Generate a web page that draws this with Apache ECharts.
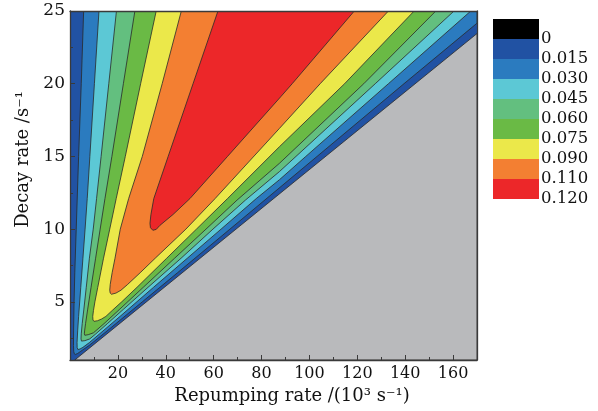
<!DOCTYPE html>
<html><head><meta charset="utf-8">
<script src="https://cdn.jsdelivr.net/npm/echarts@6/dist/echarts.min.js"></script>
<style>html,body{margin:0;padding:0;background:#fff}#c{width:598px;height:411px}</style>
</head><body><div id="c"></div>
<script>
// ---- data ----
const yMajorTicks = [5, 10, 15, 20, 25];
const yMinorTicks = [2.5, 7.5, 12.5, 17.5, 22.5];
const levelLabels = ['0', '0.015', '0.030', '0.045', '0.060', '0.075', '0.090', '0.110', '0.120'];
const bandColors = ['#000000', '#2152a3', '#2b7bbf', '#5cc8d5', '#63bf7f', '#6aba45', '#ebe84a', '#f37f32', '#ec2729'];
const grayColor = '#b9babc';

// region below the zero contour (no solution)
const grayRegion = [[2, 1], [170, 23.45], [170, 1]];
// contour boundaries [repumping rate, decay rate]; region inside has value >= level
const contour015 = [[5.7,25],[4.7,20],[3.6,15],[2.6,10],[2.0,7],[1.7,5],[1.5,3],[1.45,2],[1.55,1.6],[1.8,1.43],[2.2,1.38],
  [3.2,1.45],[4.5,1.6],[8.0,2.0],[15.5,3],[30.2,5],[44.9,7],[66.8,10],[103.2,15],[139.5,20],[170,24.16],[170,25]];
const contour030 = [[12.1,25],[10.2,20],[8.3,15],[7.2,12.1],[6.3,10],[5.4,8],[4.5,6],[3.6,4],[3.2,3],[2.95,2.2],[3.0,1.85],[3.3,1.72],
  [4.2,1.76],[5.4,1.87],[8.1,2.2],[13.8,3],[20.9,4],[34.9,6],[49,8],[63.1,10],[77.8,12.1],[87.5,13.4],[98.5,15],[133,20],[167.4,25]];
const contour045 = [[19.4,25],[16.2,20],[13,15],[11.1,12.1],[9.7,10],[8.1,8],[6.8,6],[5.8,4.5],[5.1,3.5],[4.7,2.8],[4.6,2.45],[4.8,2.3],
  [6.2,2.33],[8.25,2.45],[10.8,2.8],[15.6,3.5],[22.4,4.5],[32.6,6],[46.4,8],[59.7,10],[73.3,12],[87.5,13.96],[127.5,20],[160.4,25]];
const contour060 = [[27.1,25],[22.3,20],[17.5,15],[14.6,12.1],[12.6,10],[10.7,8],[8.8,6],[7.4,4.5],[6.5,3.5],[6.1,3],[6.0,2.8],[6.2,2.7],
  [7.6,2.74],[9.8,2.87],[14.2,3.5],[20.8,4.5],[30.6,6],[43.7,8],[56.8,10],[69.8,12],[87.5,14.53],[122.7,20],[152.8,25]];
const contour075 = [[36,25],[29.5,20],[23.1,15],[19.3,12.1],[16.6,10],[14,8],[11.6,6],[10.4,5],[9.8,4.4],[9.5,4.0],[9.6,3.75],[10,3.66],
  [11.5,3.7],[13.2,3.82],[15,4.0],[17.6,4.4],[21.6,5],[28,6],[40.4,8],[52.8,10],[65.8,12.1],[87.5,15.67],[114.7,20],[143.75,25]];
const contour090 = [[46.5,25],[38.5,20],[30.2,15],[24.5,12.1],[21,10],[18.8,8],[17.6,7],[16.8,6.2],[16.6,5.8],[16.8,5.6],[17.3,5.52],
  [19.2,5.6],[21.3,5.8],[24.1,6.2],[29.3,7],[35.6,8],[48.4,10],[60.6,12.1],[87.5,16.93],[104.5,20],[133,25]];
const contour110 = [[61.8,25],[51.4,20],[41,15],[35,12.1],[33.8,11],[33.4,10.4],[33.6,10.1],[34.6,9.92],
  [36,9.98],[37.5,10.25],[43,11],[50.1,12.1],[65.8,15],[88,19.1],[92.8,20],[118.75,25]];

const regions = [grayRegion, contour015, contour030, contour045, contour060, contour075, contour090, contour110];
const regionFills = [grayColor, bandColors[2], bandColors[3], bandColors[4], bandColors[5], bandColors[6], bandColors[7], bandColors[8]];

const FONT = 'DejaVu Serif';
const frame = {lineStyle: {color: '#3a3a3a', width: 1.3}};

const chart = echarts.init(document.getElementById('c'), null, {renderer: 'canvas'});
chart.setOption({
  animation: false,
  backgroundColor: '#ffffff',
  grid: [
    {left: 70, top: 11, width: 407, height: 349, show: true, backgroundColor: bandColors[1], borderWidth: 0},
    {left: 493, top: 19, width: 46, height: 180}
  ],
  xAxis: [
    {type: 'value', gridIndex: 0, position: 'bottom', min: 0, max: 170, interval: 20, z: 10,
      axisLine: {show: true, onZero: false, ...frame},
      axisTick: {show: true, inside: true, length: 5, lineStyle: {color: '#3a3a3a', width: 1}},
      minorTick: {show: true, splitNumber: 2, length: 3, lineStyle: {color: '#3a3a3a', width: 1}},
      splitLine: {show: false},
      axisLabel: {fontFamily: FONT, fontSize: 16, color: '#111', margin: 6,
        formatter: v => (v === 0 || v === 170) ? '' : String(v)},
      name: 'Repumping rate /(10³ s⁻¹)', nameLocation: 'middle', nameGap: 26,
      nameTextStyle: {fontFamily: FONT, fontSize: 18, color: '#111', padding: [0, 0, 0, 37]}
    },
    {type: 'value', gridIndex: 0, position: 'top', min: 0, max: 170, z: 10,
      axisLine: {show: true, onZero: false, ...frame}, axisTick: {show: false}, axisLabel: {show: false}, splitLine: {show: false}},
    {type: 'value', gridIndex: 1, min: 0, max: 1, show: false}
  ],
  yAxis: [
    {type: 'value', gridIndex: 0, position: 'left', min: 1, max: 25, z: 10,
      axisLine: {show: true, onZero: false, ...frame},
      axisTick: {show: true, inside: true, length: 5, customValues: yMajorTicks, lineStyle: {color: '#3a3a3a', width: 1}},
      splitLine: {show: false},
      axisLabel: {fontFamily: FONT, fontSize: 17, color: '#111', margin: 5, customValues: yMajorTicks},
      name: 'Decay rate /s⁻¹', nameLocation: 'middle', nameGap: 38,
      nameTextStyle: {fontFamily: FONT, fontSize: 18, color: '#111', padding: [0, 0, 0, 52]}
    },
    {type: 'value', gridIndex: 0, position: 'left', min: 1, max: 25, z: 10,
      axisLine: {show: false}, splitLine: {show: false}, axisLabel: {show: false},
      axisTick: {show: true, inside: true, length: 3, customValues: yMinorTicks, lineStyle: {color: '#3a3a3a', width: 1}}},
    {type: 'value', gridIndex: 0, position: 'right', min: 1, max: 25, z: 10,
      axisLine: {show: true, onZero: false, ...frame}, axisTick: {show: false}, axisLabel: {show: false}, splitLine: {show: false}},
    {type: 'value', gridIndex: 1, position: 'right', min: 0, max: 9, interval: 1, inverse: true,
      axisLine: {show: false}, axisTick: {show: false}, splitLine: {show: false},
      axisLabel: {fontFamily: FONT, fontSize: 16.5, color: '#111', margin: 2,
        formatter: v => v >= 1 ? levelLabels[v - 1] : ''}}
  ],
  series: [
    {type: 'custom', xAxisIndex: 0, yAxisIndex: 0, clip: true, silent: true,
      data: regions.map((r, i) => [i, 1]),
      renderItem: (params, api) => {
        const i = params.dataIndex;
        return {type: 'polygon', shape: {points: regions[i].map(p => api.coord(p))},
          style: {fill: regionFills[i], stroke: '#2a2a2a', lineWidth: 0.8, lineJoin: 'round'}};
      }
    },
    {type: 'custom', xAxisIndex: 2, yAxisIndex: 3, silent: true,
      data: bandColors.map((c, i) => [0, i]),
      renderItem: (params, api) => {
        const i = params.dataIndex;
        const a = api.coord([0, i]);
        const b = api.coord([1, i + 1]);
        return {type: 'rect', shape: {x: a[0], y: Math.min(a[1], b[1]), width: b[0] - a[0], height: Math.abs(b[1] - a[1])},
          style: {fill: bandColors[i]}};
      }
    }
  ]
});
</script></body></html>
